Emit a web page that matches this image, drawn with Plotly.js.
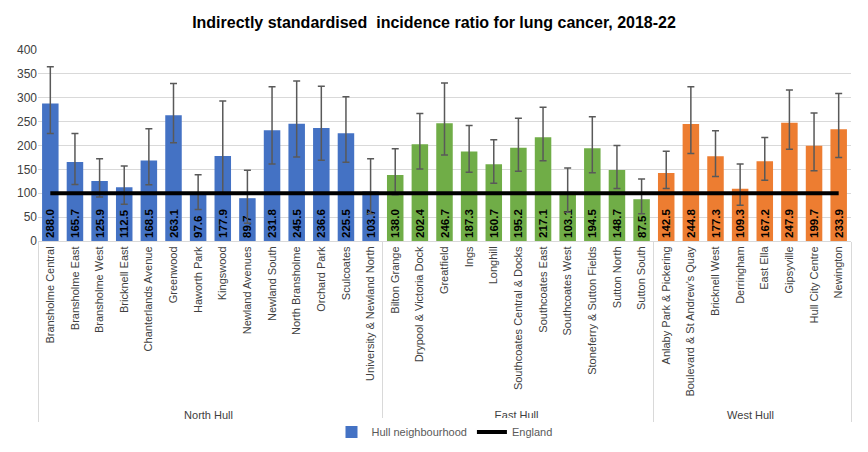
<!DOCTYPE html>
<html>
<head>
<meta charset="utf-8">
<script src="https://cdn.plot.ly/plotly-3.0.1.min.js"></script>
<style>
  body { margin: 0; background: #ffffff; }
  #myDiv { width: 868px; height: 452px; }
</style>
</head>
<body>
<div id="myDiv"></div>
<script>
const areas = [
  'North Hull', 'North Hull', 'North Hull', 'North Hull', 'North Hull', 'North Hull', 'North Hull',
  'North Hull', 'North Hull', 'North Hull', 'North Hull', 'North Hull', 'North Hull', 'North Hull',
  'East Hull', 'East Hull', 'East Hull', 'East Hull', 'East Hull', 'East Hull', 'East Hull',
  'East Hull', 'East Hull', 'East Hull', 'East Hull',
  'West Hull', 'West Hull', 'West Hull', 'West Hull', 'West Hull', 'West Hull', 'West Hull', 'West Hull'
];
const neighbourhoods = [
  'Bransholme Central', 'Bransholme East', 'Bransholme West', 'Bricknell East', 'Chanterlands Avenue',
  'Greenwood', 'Haworth Park', 'Kingswood', 'Newland Avenues', 'Newland South', 'North Bransholme',
  'Orchard Park', 'Sculcoates', 'University & Newland North',
  'Bilton Grange', 'Drypool & Victoria Dock', 'Greatfield', 'Ings', 'Longhill',
  'Southcoates Central & Docks', 'Southcoates East', 'Southcoates West', 'Stoneferry & Sutton Fields',
  'Sutton North', 'Sutton South',
  'Anlaby Park & Pickering', 'Boulevard & St Andrew\u2019s Quay', 'Bricknell West', 'Derringham',
  'East Ella', 'Gipsyville', 'Hull City Centre', 'Newington'
];
const ratio = [
  288.0, 165.7, 125.9, 112.5, 168.5, 263.1, 97.6, 177.9, 89.7, 231.8, 245.5, 236.6, 225.5, 103.7,
  138.0, 202.4, 246.7, 187.3, 160.7, 195.2, 217.1, 103.1, 194.5, 148.7, 87.5,
  142.5, 244.8, 177.3, 109.3, 167.2, 247.9, 199.7, 233.9
];
const lowerCI = [
  225, 118.5, 92, 77, 118, 206, 66, 101, 37, 161, 176, 169, 165, 57,
  97, 151, 180, 144, 121, 146, 168, 60, 143, 110, 57,
  110, 183, 135, 75, 127, 192, 147, 175
];
const upperCI = [
  365, 225, 172, 157, 235, 330, 139, 293, 148, 323, 335, 324, 302, 172,
  193, 267, 331, 242, 212, 257, 280, 153, 260, 200, 130,
  188, 323, 231, 161, 217, 316, 268, 309
];
const england = 100;

const areaColour = {'North Hull': '#4472C4', 'East Hull': '#70AD47', 'West Hull': '#ED7D31'};

const bars = {
  x: [areas, neighbourhoods],
  y: ratio,
  type: 'bar',
  name: 'Hull neighbourhood',
  marker: {color: areas.map(a => areaColour[a])},
  text: ratio.map(v => v.toFixed(1)),
  textposition: 'inside',
  insidetextanchor: 'start',
  constraintext: 'none',
  textangle: -90,
  textfont: {family: 'Liberation Sans', size: 11.5, color: '#000000', weight: 'bold'},
  error_y: {
    type: 'data',
    symmetric: false,
    array: upperCI.map((u, i) => u - ratio[i]),
    arrayminus: lowerCI.map((l, i) => ratio[i] - l),
    color: '#595959',
    thickness: 1.5,
    width: 3.5
  },
  hoverinfo: 'none'
};

const englandLine = {
  x: [areas, neighbourhoods],
  y: neighbourhoods.map(() => england),
  type: 'scatter',
  mode: 'lines',
  name: 'England',
  line: {color: '#000000', width: 4},
  hoverinfo: 'none'
};

const layout = {
  width: 868,
  height: 452,
  margin: {l: 38, r: 17, t: 50, b: 211},
  paper_bgcolor: '#ffffff',
  plot_bgcolor: '#ffffff',
  bargap: 0.33,
  title: {
    text: '<b>Indirectly standardised  incidence ratio for lung cancer, 2018-22</b>',
    font: {family: 'Liberation Sans', size: 16, color: '#000000'},
    x: 0.5,
    xanchor: 'center',
    yref: 'container',
    y: 0.951,
    yanchor: 'middle'
  },
  xaxis: {
    type: 'multicategory',
    tickangle: -90,
    tickfont: {family: 'Liberation Sans', size: 11, color: '#404040'},
    showline: true,
    linecolor: '#d9d9d9',
    linewidth: 1,
    showdividers: true,
    dividercolor: '#d9d9d9',
    dividerwidth: 1,
    ticks: '',
    showgrid: false
  },
  yaxis: {
    range: [0, 400],
    dtick: 50,
    showgrid: true,
    gridcolor: '#d9d9d9',
    gridwidth: 1,
    zeroline: false,
    tickfont: {family: 'Liberation Sans', size: 12, color: '#404040'},
    ticklen: 0
  },
  legend: {
    orientation: 'h',
    x: 0.5,
    xanchor: 'center',
    yref: 'container',
    y: 0.044,
    yanchor: 'middle',
    font: {family: 'Liberation Sans', size: 11, color: '#595959'}
  },
  showlegend: true
};

Plotly.newPlot('myDiv', [bars, englandLine], layout, {displayModeBar: false, staticPlot: true});
</script>
</body>
</html>
